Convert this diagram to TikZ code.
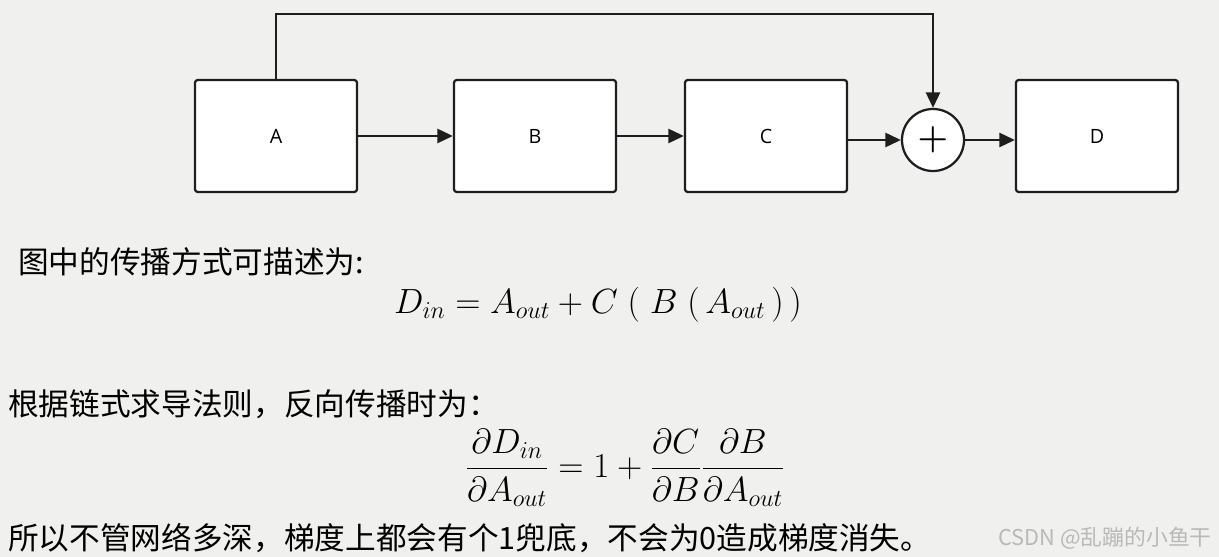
\documentclass[tikz,border=0pt]{standalone}
\usepackage{fontspec}
\usepackage{amsmath}
\usepackage{tikz}
\usetikzlibrary{arrows.meta}
\setsansfont{Open Sans}
\newfontfamily\cjk{Noto Sans CJK SC}
\definecolor{slideBg}{RGB}{240, 240, 238}
\definecolor{boxLine}{RGB}{30, 30, 30}
\definecolor{markGray}{RGB}{185, 185, 185}
\tikzset{
  block/.style={draw=boxLine, line width=1.6pt, fill=white, rounded corners=2pt, minimum width=4.05cm, minimum height=2.8cm, font=\sffamily\fontsize{14}{16}\selectfont},
  flow/.style={-{Triangle[length=11pt,width=10pt]}, line width=1.6pt, boxLine},
  note/.style={anchor=west, inner sep=0pt, font=\cjk\fontsize{21.8}{24}\selectfont}
}
\begin{document}
\begin{tikzpicture}[x=0.025cm, y=-0.025cm]
            \fill[slideBg] (0,0) rectangle (1219,557);
            \useasboundingbox (0,0) rectangle (1219,557);
            % Blocks
            \node[block] (a) at (276,136) {A};
            \node[block] (b) at (535,136) {B};
            \node[block] (c) at (766,136) {C};
            \node[draw=boxLine, line width=1.6pt, fill=white, circle, minimum size=1.55cm, inner sep=0pt, font=\fontsize{28}{28}\selectfont] (sum) at (933,140) {$\boldsymbol{+}$};
            \node[block] (d) at (1097,136) {D};
            
            % Arrows
            \draw[flow] (a) -- (b);
            \draw[flow] (b) -- (c);
            \draw[flow] (c.east |- sum) -- (sum);
            \draw[flow] (sum) -- (d.west |- sum);
            \coordinate (up) at (276,14);
            \draw[flow] (a.north) -- (up) -| (sum.north);
            
            % Text
            \node[note] (t1) at (18,262) {图中的传播方式可描述为:};
            \node[font=\fontsize{23}{26}\selectfont] (f1) at (598,305) {$D_{in} = A_{out} + C\;(\;B\;(\,A_{out}\,)\,)$};
            \node[note] (t2) at (8,404) {根据链式求导法则，反向传播时为：};
            \node[font=\fontsize{23}{26}\selectfont] (f2) at (625,468) {$\dfrac{\partial D_{in}}{\partial A_{out}} = 1 + \dfrac{\partial C}{\partial B}\dfrac{\partial B}{\partial A_{out}}$};
            \node[note] (t3) at (8,538) {所以不管网络多深，梯度上都会有个1兜底，不会为0造成梯度消失。};
            \node[anchor=east, inner sep=0pt, text=markGray, font=\cjk\fontsize{15.5}{17}\selectfont] (mark) at (1212,538) {CSDN @乱蹦的小鱼干};
        \end{tikzpicture}
\end{document}
